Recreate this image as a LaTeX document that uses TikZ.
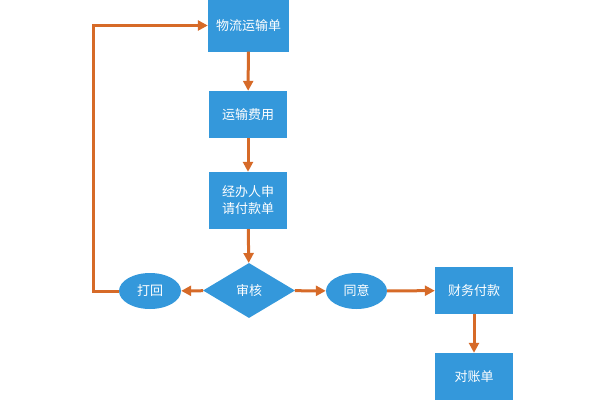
\documentclass[tikz,border=0pt]{standalone}
\usepackage{fontspec}
\setmainfont{Noto Sans CJK SC}
\usetikzlibrary{shapes.geometric,arrows.meta}
\definecolor{boxblue}{RGB}{52,152,219}
\definecolor{linkorange}{RGB}{214,106,40}

\begin{document}
\begin{tikzpicture}[x=1pt,y=-1pt,
    stepbox/.style={rectangle,fill=boxblue,text=white,inner sep=0pt,
        minimum width=78pt,minimum height=47pt,align=center,font=\fontsize{13pt}{17pt}\selectfont},
    checkbox/.style={diamond,fill=boxblue,text=white,inner sep=0pt,
        minimum width=92pt,minimum height=55pt,font=\fontsize{13pt}{17pt}\selectfont},
    resultbox/.style={ellipse,fill=boxblue,text=white,inner sep=0pt,
        minimum width=62pt,minimum height=36pt,font=\fontsize{13pt}{17pt}\selectfont},
    link/.style={draw=linkorange,line width=3pt,-{Triangle[length=10pt,width=10pt]}}]
    \useasboundingbox (0,0) rectangle (600,400);
    \clip (0,0) rectangle (600,400);
    \node[stepbox,minimum width=81pt,minimum height=52pt] (waybill) at (248.5,25.5) {物流运输单};
    \node[stepbox] (fee) at (248,114.5) {运输费用};
    \node[stepbox,minimum height=57pt] (apply) at (248,200.5) {经办人申\\请付款单};
    \node[checkbox] (audit) at (249,290.5) {审核};
    \node[resultbox] (reject) at (150,291) {打回};
    \node[resultbox,minimum width=61pt] (agree) at (356.5,291) {同意};
    \node[stepbox] (pay) at (474,290.5) {财务付款};
    \node[stepbox] (bill) at (474,376.5) {对账单};
    \coordinate (corner) at (93,291);
    \draw[link] (waybill) -- (fee);
    \draw[link] (fee) -- (apply);
    \draw[link] (apply) -- (audit);
    \draw[link] (audit) -- (reject);
    \draw[link] (audit) -- (agree);
    \draw[link] (agree) -- (pay);
    \draw[link] (pay) -- (bill);
    \draw[link] (reject) -- (corner) |- (waybill);
\end{tikzpicture}
\end{document}
